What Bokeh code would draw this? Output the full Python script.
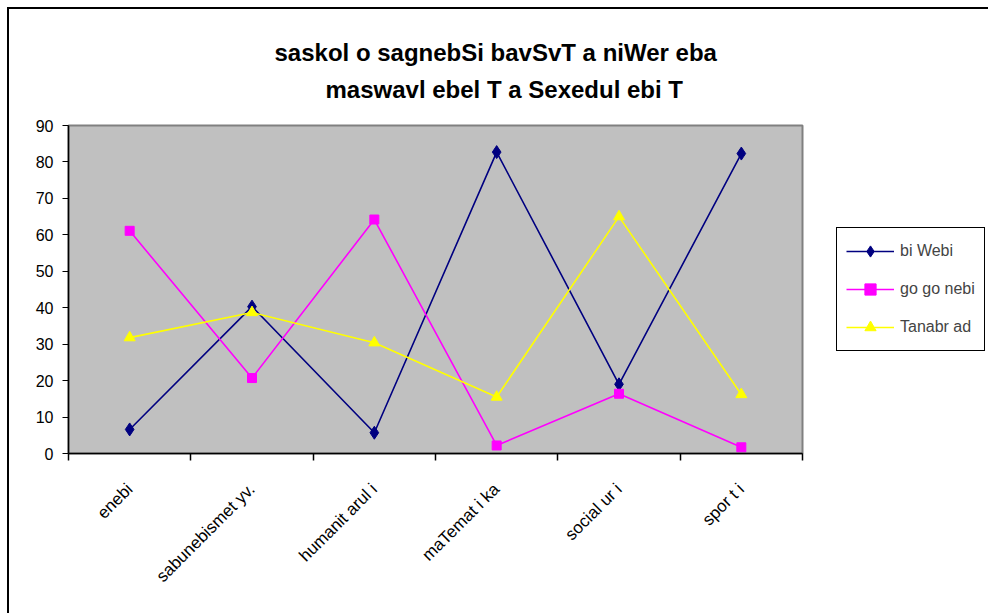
from bokeh.plotting import figure
from bokeh.models import (FixedTicker, Legend, LegendItem, Title, Range1d,
                          CustomJSTickFormatter)
from bokeh.embed import file_html
from bokeh.resources import INLINE
from math import pi

# ---- data ----
categories = ["enebi", "sabunebismet yv.", "humanit arul i", "maTemat i ka",
              "social ur i", "spor t i"]
bi_webi = [6.6, 40.3, 5.7, 82.7, 19.0, 82.3]
gogonebi = [61.1, 20.7, 64.2, 2.2, 16.4, 1.7]
tanabrad = [31.8, 38.7, 30.4, 15.5, 65.0, 16.2]
series_names = ["bi Webi", "go go nebi", "Tanabr ad"]
y_ticks = [0, 10, 20, 30, 40, 50, 60, 70, 80, 90]
title_lines = ["saskol o sagnebSi bavSvT a niWer eba",
               "maswavl ebel T a Sexedul ebi T"]

FONT = "Liberation Sans"
xs = [i + 0.5 for i in range(len(categories))]
bounds = list(range(len(categories) + 1))

p = figure(frame_width=734, frame_height=328, output_backend="svg",
           toolbar_location=None,
           x_range=Range1d(0, len(categories)), y_range=Range1d(0, 90),
           min_border_left=59, min_border_right=185, min_border_top=116,
           min_border_bottom=160)
p.styles = {"border-left": "2px solid black", "border-top": "2px solid black",
            "margin-left": "7px", "margin-top": "7px"}

p.title = None
# second line first: later titles stack further from the frame
p.add_layout(Title(text=title_lines[1], align="left", offset=257, standoff=45,
                   text_font=FONT, text_font_size="24px", text_font_style="bold",
                   text_color="black"), "above")
p.add_layout(Title(text=title_lines[0], align="left", offset=206, standoff=-28,
                   text_font=FONT, text_font_size="24px", text_font_style="bold",
                   text_color="black"), "above")

p.background_fill_color = "#C0C0C0"
p.border_fill_color = "white"
p.outline_line_color = "#808080"
p.outline_line_width = 2
p.xgrid.grid_line_color = None
p.ygrid.grid_line_color = None

# y axis
p.yaxis.ticker = FixedTicker(ticks=y_ticks)
p.yaxis.minor_tick_line_color = None
p.yaxis.major_tick_out = 6
p.yaxis.major_tick_in = 0
p.yaxis.major_label_standoff = 9
p.yaxis.major_label_text_font = FONT
p.yaxis.major_label_text_font_size = "16px"
p.yaxis.major_label_text_color = "black"
p.yaxis.axis_line_color = "black"
p.yaxis.axis_line_width = 1.5

# x axis
p.xaxis.ticker = FixedTicker(ticks=xs, minor_ticks=bounds)
p.xaxis.formatter = CustomJSTickFormatter(args=dict(labels=categories),
                                          code="return labels[Math.floor(tick)];")
p.xaxis.major_tick_out = 0
p.xaxis.major_tick_in = 0
p.xaxis.minor_tick_out = 7
p.xaxis.minor_tick_in = 0
p.xaxis.minor_tick_line_color = "black"
p.xaxis.minor_tick_line_width = 1.5
p.xaxis.major_label_orientation = pi / 4
p.xaxis.major_label_standoff = 26
p.xaxis.major_label_text_font = FONT
p.xaxis.major_label_text_font_size = "17px"
p.xaxis.major_label_text_color = "black"
p.xaxis.axis_line_color = "black"
p.xaxis.axis_line_width = 1.5

series = [(bi_webi, "#000080", "diamond", 13),
          (gogonebi, "#FF00FF", "square", 9),
          (tanabrad, "#FFFF00", "triangle", 11)]
items = []
for (vals, col, mk, sz), name in zip(series, series_names):
    ln = p.line(xs, vals, line_color=col, line_width=1.6)
    sc = p.scatter(xs, vals, marker=mk, size=sz, fill_color=col, line_color=col)
    items.append(LegendItem(label=name, renderers=[ln, sc]))

legend = Legend(items=items, location="center_left", border_line_color="black",
                border_line_width=1, border_line_alpha=1,
                background_fill_color="white", background_fill_alpha=1,
                label_text_font=FONT, label_text_font_size="16px",
                glyph_width=48, glyph_height=28, label_height=28, spacing=10,
                padding=9, margin=34, label_standoff=6)
p.add_layout(legend, "right")

open("out.html", "w").write(file_html(p, INLINE))
